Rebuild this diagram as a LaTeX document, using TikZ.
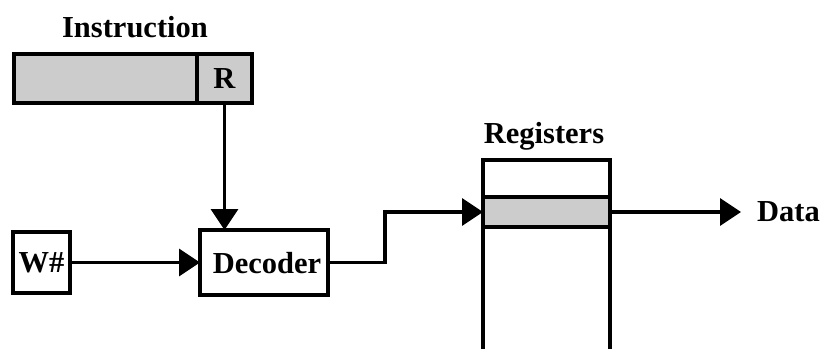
\documentclass[tikz,border=0pt]{standalone}
\usepackage{fontspec}
\setmainfont{Liberation Serif}
\usetikzlibrary{arrows.meta}
\begin{document}
\begin{tikzpicture}[x=1pt,y=1pt,
  box/.style={draw=black, line width=3.8pt, inner sep=0pt, outer sep=0pt, rectangle},
  graybox/.style={box, fill=gray!40},
  lbl/.style={font=\fontsize{30.5}{32}\selectfont\bfseries, inner sep=0pt},
  conn/.style={line width=3.6pt, -{Triangle[length=21pt,width=27pt]}},
  wire/.style={line width=3.6pt}]
\useasboundingbox (0,0) rectangle (822,-349);
% instruction
\node[lbl] (instrlbl) at (135,-27) {Instruction};
\node[graybox, minimum width=183, minimum height=49] (instr) at (105.5,-78.5) {};
\node[graybox, minimum width=55, minimum height=49] (R) at (224.5,-78.5) {};
\node[lbl] (Rlbl) at (R.center) {R};
% W# and decoder
\node[box, minimum width=57, minimum height=61] (W) at (41.5,-262.5) {};
\node[lbl] (Wlbl) at (W.center) {W\#};
\node[box, minimum width=128, minimum height=65] (dec) at (264,-262.5) {};
\node[lbl] (declbl) at (267,-263) {Decoder};
% registers
\node[lbl] (reglbl) at (544,-136) {Registers};
\node[box, minimum width=127, minimum height=37] (regtop) at (546.5,-178.5) {};
\node[graybox, minimum width=127, minimum height=30] (gray) at (546.5,-212) {};
\coordinate (bl) at (483,-349);
\coordinate (br) at (610,-349);
\draw[box] (gray.south west) -- (bl);
\draw[box] (gray.south east) -- (br);
% data
\node[lbl, anchor=west] (data) at (757,-212) {Data};
% connectors
\draw[conn] (R.south) -- (R.south |- dec.north);
\draw[conn] (W.east) -- (dec.west);
\coordinate (bend) at (385,-262.5);
\draw[conn] (dec.east) -- (bend) |- (gray.west);
\draw[conn, shorten >=16pt] (gray.east) -- (gray.east -| data.west);
\end{tikzpicture}
\end{document}
